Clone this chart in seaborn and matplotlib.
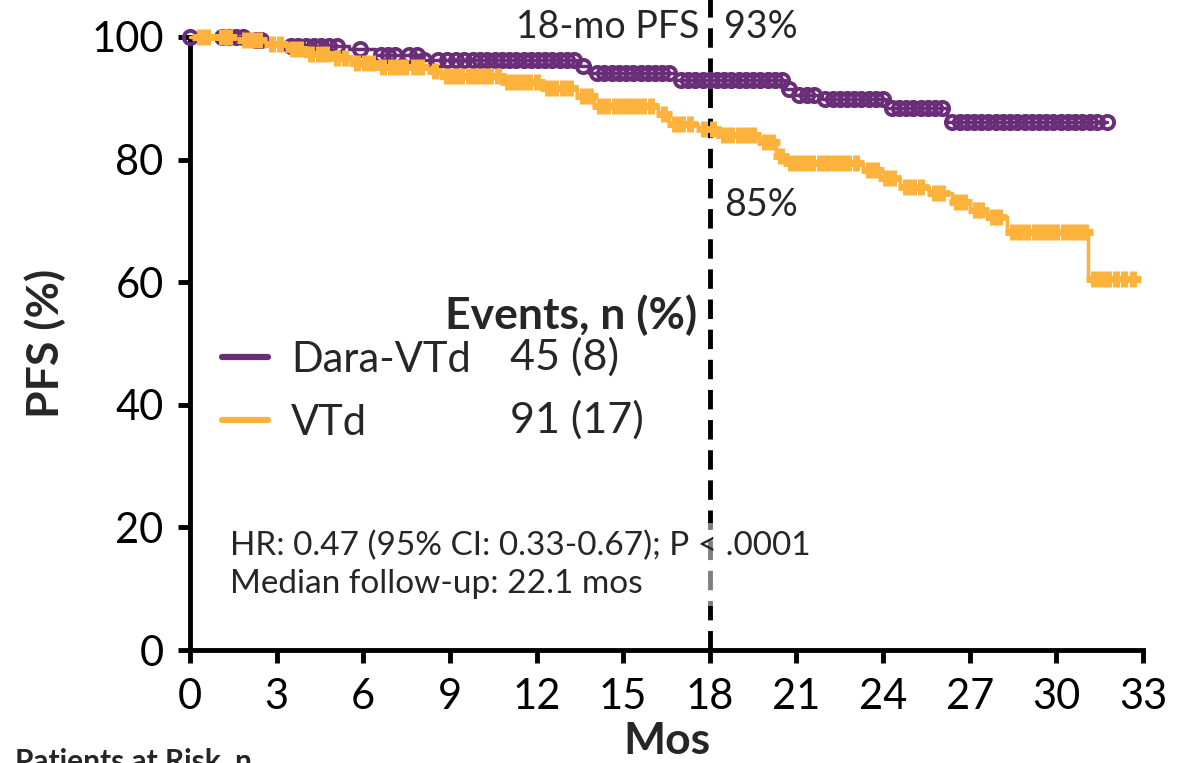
import numpy as np
import pandas as pd
import seaborn as sns
import matplotlib.pyplot as plt
from matplotlib.lines import Line2D

sns.set_theme(style="ticks")
plt.rcParams["font.family"] = ["Lato", "DejaVu Sans"]

# Kaplan-Meier step data (months, % progression-free)
dara_times = [0, 2.0, 2.6, 3.1, 5.5, 6.4, 8.0, 13.4, 13.8, 16.8, 20.6, 20.9, 21.9, 24.1, 26.2]
dara_surv = [100, 99.5, 98.9, 98.5, 98.0, 97.1, 96.3, 95.2, 94.2, 93.0, 91.5, 90.5, 89.9, 88.4, 86.2]
dara_last = 31.75

vtd_times = [0, 1.6, 2.6, 3.4, 3.9, 4.9, 5.6, 6.5, 8.3, 8.7, 10.8, 12.2, 13.4, 14.0, 16.2,
             16.6, 17.6, 18.3, 19.7, 20.3, 20.6, 23.3, 23.9, 24.6, 25.6, 26.4, 27.0, 27.6,
             28.3, 31.1]
vtd_surv = [100, 99.5, 98.8, 98.0, 97.2, 96.5, 95.8, 95.1, 94.4, 93.6, 92.7, 91.7, 90.4, 88.7,
            87.4, 85.8, 85.0, 84.0, 82.8, 80.6, 79.4, 78.3, 77.0, 75.5, 74.5, 73.1, 71.8,
            70.6, 68.2, 60.5]
vtd_last = 32.65

# Censoring times
dara_censor = [0.0, 1.1, 1.35, 1.6, 1.85, 2.3, 2.45, 3.5, 3.75, 4.0, 4.3, 4.55, 4.8, 5.1, 5.9,
               6.6, 6.85, 7.1, 7.6, 7.85, 8.1, 8.6, 8.9, 9.2, 9.5, 9.8, 10.05, 10.3, 10.55,
               10.8, 11.05, 11.3, 11.55, 11.8, 12.05, 12.3, 12.55, 12.8, 13.05, 13.3, 13.6,
               14.1, 14.35, 14.6, 14.85, 15.1, 15.35, 15.6, 15.85, 16.1, 16.35, 16.6, 17.0,
               17.25, 17.5, 17.75, 18.0, 18.25, 18.5, 18.75, 19.0, 19.25, 19.5, 19.75, 20.0,
               20.25, 20.5, 20.75, 21.1, 21.35, 21.6, 22.0, 22.25, 22.5, 22.75, 23.0, 23.25,
               23.5, 23.75, 24.0, 24.3, 24.55, 24.8, 25.05, 25.3, 25.55, 25.8, 26.05, 26.4,
               26.65, 26.9, 27.15, 27.4, 27.65, 27.9, 28.15, 28.4, 28.65, 28.9, 29.15, 29.4,
               29.65, 29.9, 30.15, 30.4, 30.65, 30.9, 31.15, 31.4, 31.75]
vtd_censor = [0.35, 0.6, 1.1, 1.35, 1.9, 2.15, 2.4, 2.85, 3.1, 3.55, 3.8, 4.2, 4.45, 4.7, 5.1,
              5.35, 5.8, 6.05, 6.3, 6.7, 6.95, 7.2, 7.45, 7.75, 8.0, 8.5, 8.9, 9.15, 9.4,
              9.65, 9.9, 10.15, 10.4, 10.65, 11.0, 11.25, 11.5, 11.75, 12.0, 12.4, 12.65,
              12.9, 13.15, 13.6, 13.85, 14.2, 14.45, 14.7, 14.95, 15.2, 15.45, 15.7, 15.95,
              16.4, 16.8, 17.05, 17.3, 17.8, 18.1, 18.5, 18.75, 19.0, 19.25, 19.5, 19.9,
              20.15, 20.45, 20.8, 21.05, 21.3, 21.55, 21.8, 22.05, 22.3, 22.55, 22.8, 23.05,
              23.5, 23.75, 24.1, 24.35, 24.8, 25.05, 25.3, 25.8, 26.05, 26.55, 26.8, 27.2,
              27.4, 27.8, 28.0, 28.5, 28.75, 29.0, 29.25, 29.5, 29.75, 30.0, 30.25, 30.5,
              30.75, 31.0, 31.3, 31.55, 31.8, 32.05, 32.35, 32.65]

arm_names = ["Dara-VTd", "VTd"]
arm_events = ["45 (8)", "91 (17)"]
colors = {"Dara-VTd": "#6A2E78", "VTd": "#FDB23C"}

x_ticks = [0, 3, 6, 9, 12, 15, 18, 21, 24, 27, 30, 33]
y_ticks = [0, 20, 40, 60, 80, 100]


def km_frame(times, surv, last, arm):
    t = list(times) + [last]
    s = list(surv) + [surv[-1]]
    return pd.DataFrame({"time": t, "pfs": s, "arm": arm})


def censor_frame(ctimes, times, surv, arm):
    idx = np.searchsorted(times, ctimes, side="right") - 1
    return pd.DataFrame({"time": ctimes, "pfs": np.asarray(surv)[idx], "arm": arm})


curves = pd.concat([km_frame(dara_times, dara_surv, dara_last, "Dara-VTd"),
                    km_frame(vtd_times, vtd_surv, vtd_last, "VTd")])
dara_cens = censor_frame(dara_censor, dara_times, dara_surv, "Dara-VTd")
vtd_cens = censor_frame(vtd_censor, vtd_times, vtd_surv, "VTd")

fig = plt.figure(figsize=(11.97, 7.63), dpi=100)
ax = fig.add_axes([190 / 1197, 113 / 763, 953 / 1197, 613 / 763])

for arm in arm_names:
    sub = curves[curves["arm"] == arm]
    sns.lineplot(data=sub, x="time", y="pfs", ax=ax, color=colors[arm], lw=2.5,
                 drawstyle="steps-post", estimator=None, sort=False, clip_on=False, zorder=3)

# Censor marks: open circles (Dara-VTd) and plus signs (VTd)
ax.plot(dara_cens["time"], dara_cens["pfs"], ls="none", marker="o", ms=9.5,
        mfc="none", mec=colors["Dara-VTd"], mew=2.8, clip_on=False, zorder=4)
ax.plot(vtd_cens["time"], vtd_cens["pfs"], ls="none", marker="+", ms=12,
        mec=colors["VTd"], mew=5, clip_on=False, zorder=5)

ax.set_xlim(0, 33)
ax.set_ylim(0, 100)
ax.set_xticks(x_ticks)
ax.set_yticks(y_ticks)
for side in ["top", "right"]:
    ax.spines[side].set_visible(False)
for side in ["left", "bottom"]:
    ax.spines[side].set_linewidth(3.5)
    ax.spines[side].set_color("black")
ax.tick_params(axis="both", direction="out", length=9, width=3.5, labelsize=30,
               color="black", labelcolor="black")
ax.tick_params(axis="x", pad=11)
ax.tick_params(axis="y", pad=10)
ax.set_xlabel("Mos", fontsize=32, fontweight="bold", labelpad=4)
ax.set_ylabel("PFS (%)", fontsize=32, fontweight="bold", labelpad=18)

# 18-month landmark
ax.axvline(18, ymin=0, ymax=1.062, color="black", lw=3.5, ls=(0, (4.0, 2.2)),
           clip_on=False, zorder=2)
ax.text(17.65, 101.6, "18-mo PFS", ha="right", va="center", fontsize=27)
ax.text(18.5, 101.6, "93%", ha="left", va="center", fontsize=27)
ax.text(18.5, 72.6, "85%", ha="left", va="center", fontsize=27)

# Legend with event counts
handles = [Line2D([], [], color=colors[a], lw=4.5) for a in arm_names]
leg = ax.legend(handles, arm_names, loc="upper left", bbox_to_anchor=(0.034, 0.504),
                frameon=False, fontsize=30, handlelength=1.1, handletextpad=0.55,
                labelspacing=0.6, borderpad=0, borderaxespad=0)
ax.text(17.55, 54.6, "Events, n (%)", ha="right", va="center", fontsize=32, fontweight="bold")
ax.text(11.08, 47.8, arm_events[0], ha="left", va="center", fontsize=31)
ax.text(11.08, 37.5, arm_events[1], ha="left", va="center", fontsize=31)

ax.text(1.39, 13.9, "HR: 0.47 (95% CI: 0.33-0.67); P < .0001\nMedian follow-up: 22.1 mos",
        ha="left", va="center", fontsize=24, linespacing=1.35, zorder=6,
        bbox=dict(facecolor="white", alpha=0.5, edgecolor="none", pad=5))

fig.text(15 / 1197, 1 - 748 / 763, "Patients at Risk, n", ha="left", va="top",
         fontsize=21.5, fontweight="bold")

fig.savefig("out.png", dpi=100)
